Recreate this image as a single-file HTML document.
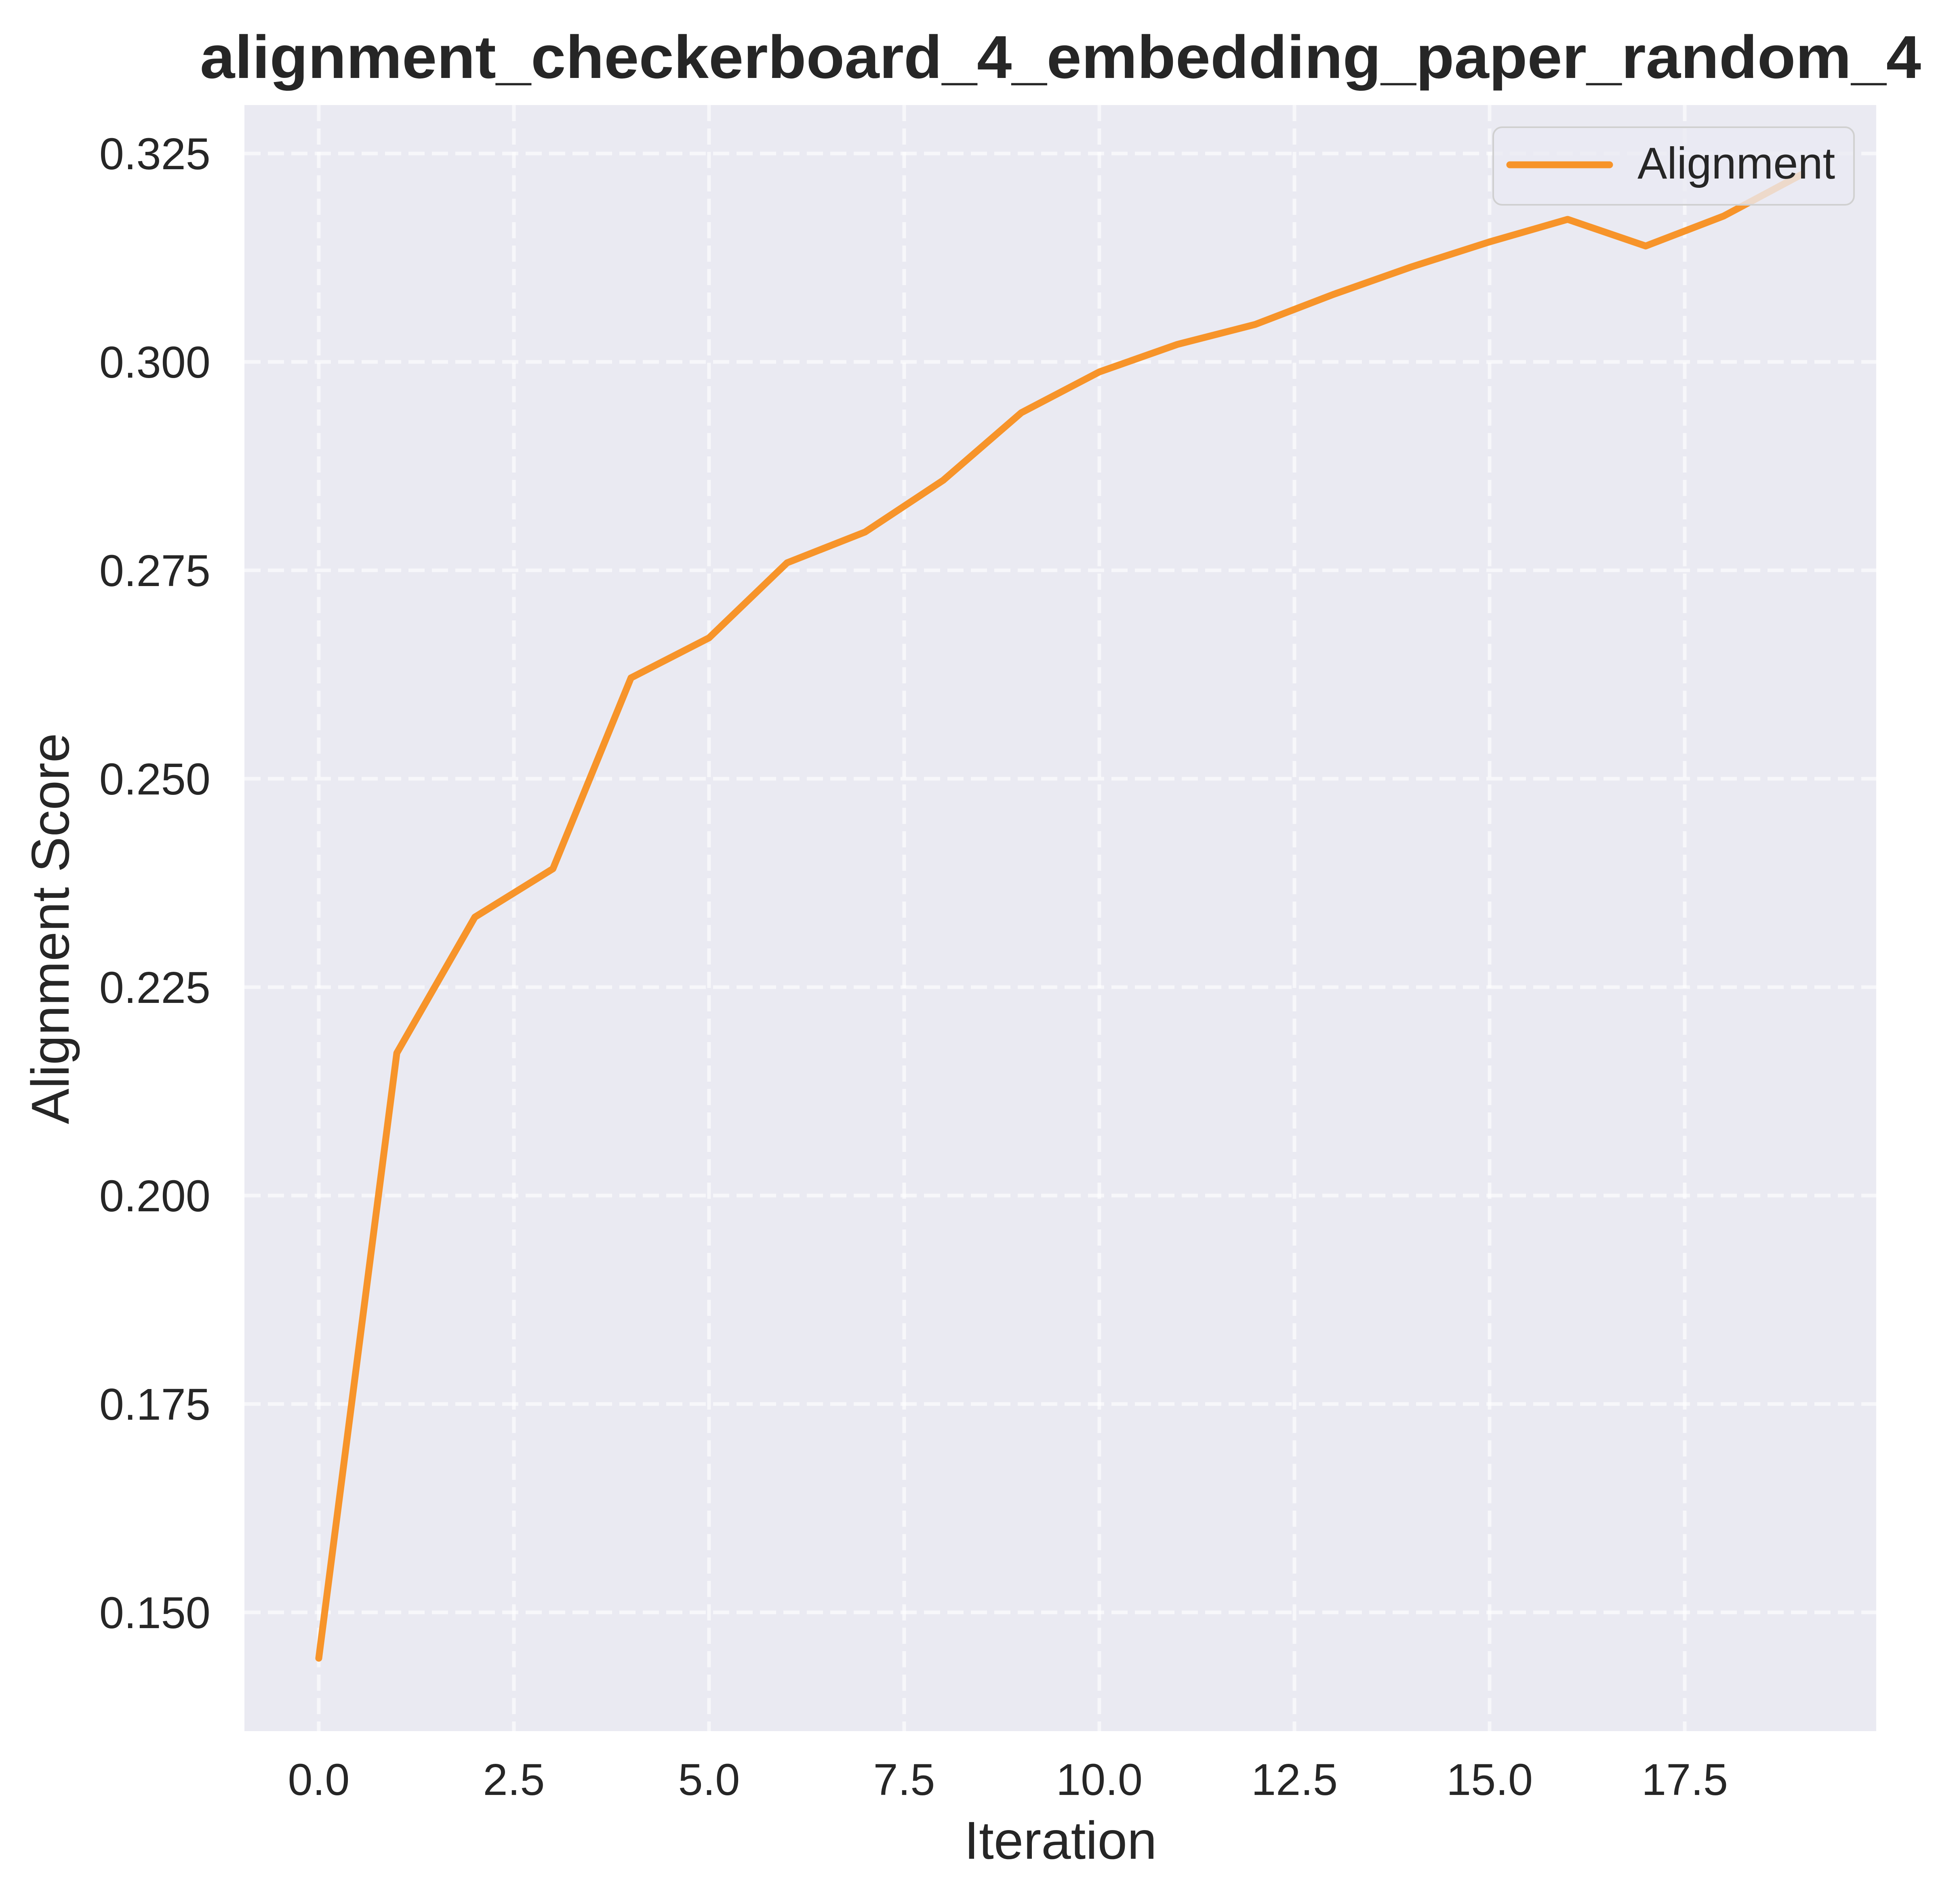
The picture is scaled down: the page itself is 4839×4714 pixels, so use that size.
<!DOCTYPE html>
<html><head><meta charset="utf-8"><style>html,body{margin:0;padding:0;background:#fff}svg{display:block}</style></head>
<body>
<svg id="chart" width="4839" height="4714" viewBox="0 0 4839 4714" xmlns="http://www.w3.org/2000/svg" font-family="'Liberation Sans', Arial, sans-serif">
<rect width="4839" height="4714" fill="#fff"/>
<rect id="plotbg" x="605" y="260" width="4039" height="4026" fill="#eaeaf2"/>
<g id="grid"></g><g id="ticks"></g><g id="series"></g>
<text x="2625" y="193" text-anchor="middle" font-size="150" font-weight="bold" fill="#262626" textLength="4260" lengthAdjust="spacingAndGlyphs">alignment_checkerboard_4_embedding_paper_random_4</text>
<text x="2625" y="4602" text-anchor="middle" font-size="132" fill="#262626">Iteration</text>
<text transform="translate(170,2299) rotate(-90)" text-anchor="middle" font-size="132" fill="#262626">Alignment Score</text>
<g>
<rect x="3696" y="315" width="893" height="192" rx="22" fill="#eaeaf2" fill-opacity="0.8" stroke="#d0d0d0" stroke-width="4"/>
<line x1="3737" y1="408" x2="3984" y2="408" stroke="#f7942a" stroke-width="17" stroke-linecap="round"/>
<text x="4053" y="442" font-size="110" fill="#262626">Alignment</text>
</g>
</svg>
<script>
const iterations=[0,1,2,3,4,5,6,7,8,9,10,11,12,13,14,15,16,17,18,19];
const alignment=[0.1445,0.2171,0.2334,0.2392,0.2621,0.2669,0.2759,0.2796,0.2858,0.2939,0.2988,0.3021,0.3045,0.3081,0.3114,0.3144,0.3171,0.3139,0.3175,0.3225];
const xTicks=[0,2.5,5,7.5,10,12.5,15,17.5];
const xTickLabels=["0.0","2.5","5.0","7.5","10.0","12.5","15.0","17.5"];
const yTicks=[0.15,0.175,0.2,0.225,0.25,0.275,0.3,0.325];
const yTickLabels=["0.150","0.175","0.200","0.225","0.250","0.275","0.300","0.325"];
const NS="http://www.w3.org/2000/svg";
const L=605,R=4644,T=260,B=4286;
const sx=v=>789+v*193.2;
const sy=v=>3992-(v-0.15)/0.025*516;
function mk(tag,attrs,parent){const e=document.createElementNS(NS,tag);for(const k in attrs)e.setAttribute(k,attrs[k]);parent.appendChild(e);return e;}
const grid=document.getElementById('grid'),ticks=document.getElementById('ticks'),series=document.getElementById('series');
xTicks.forEach((t,i)=>{
 const g=mk('line',{x1:sx(t),x2:sx(t),y1:T,y2:B,stroke:'#fff','stroke-width':9,'stroke-dasharray':'40,18',opacity:0.65},grid);
 
 
 const tx=mk('text',{x:sx(t),y:4444,'text-anchor':'middle','font-size':110,fill:'#262626'},ticks);
 tx.textContent=xTickLabels[i];
 
 
});
yTicks.forEach((t,i)=>{
 const g=mk('line',{x1:L,x2:R,y1:sy(t),y2:sy(t),stroke:'#fff','stroke-width':9,'stroke-dasharray':'40,18',opacity:0.65},grid);
 
 
 const tx=mk('text',{x:521,y:sy(t)+39,'text-anchor':'end','font-size':110,fill:'#262626'},ticks);
 tx.textContent=yTickLabels[i];
 
 
});
const pts=iterations.map((x,i)=>sx(x).toFixed(1)+','+sy(alignment[i]).toFixed(1)).join(' ');
const line=mk('polyline',{points:pts,fill:'none',stroke:'#f7942a','stroke-width':17,'stroke-linejoin':'round','stroke-linecap':'round'},series);


</script>
</body></html>
